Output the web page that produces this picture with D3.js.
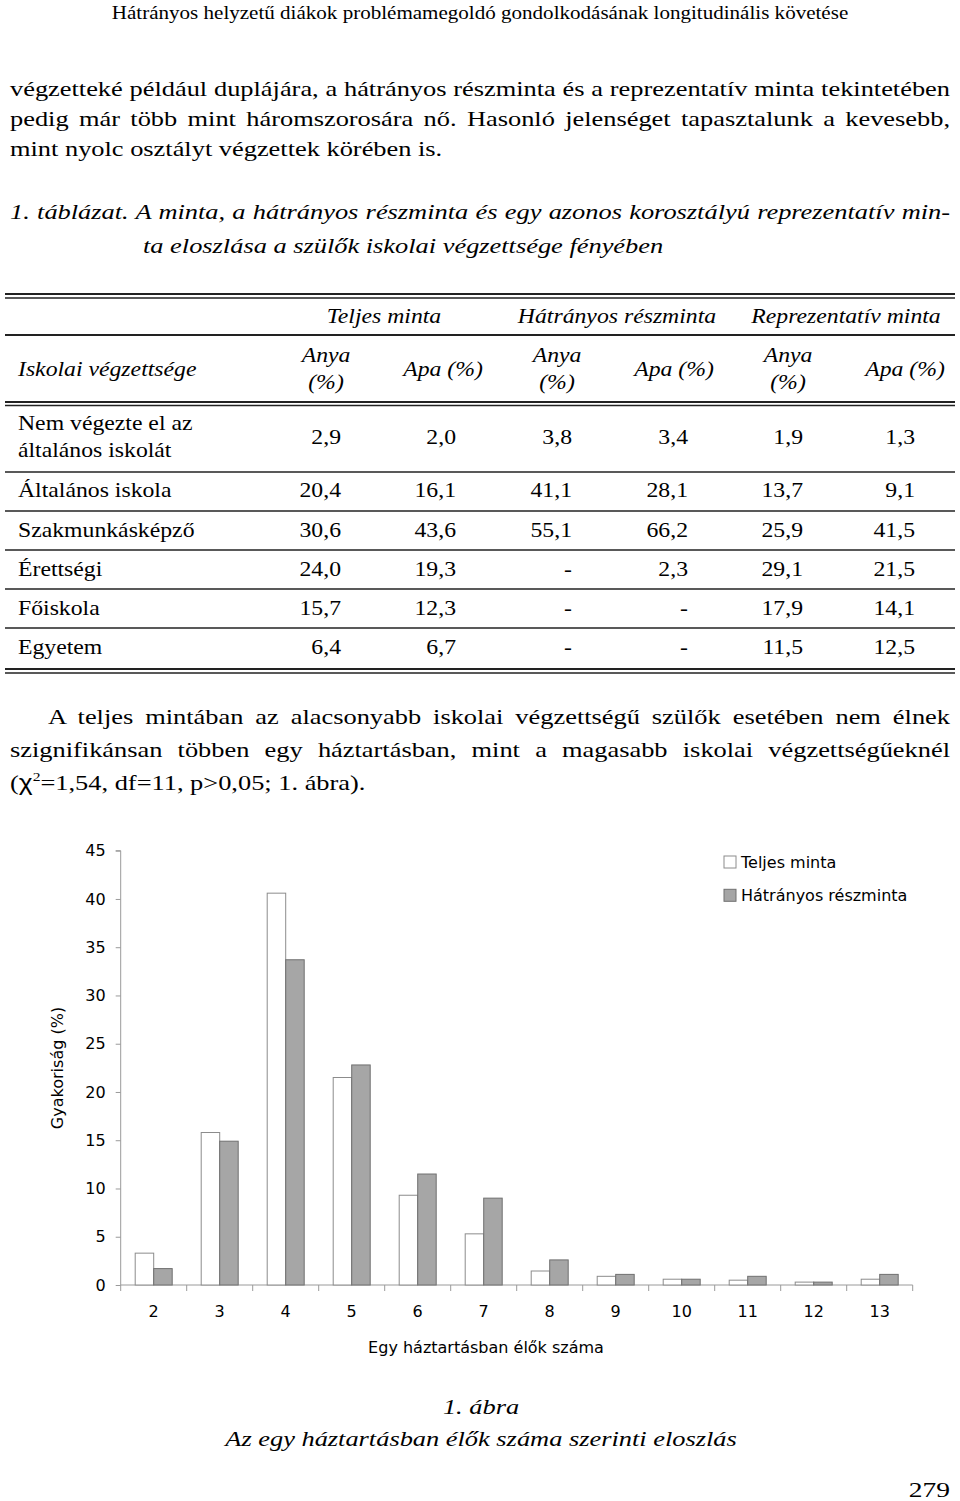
<!DOCTYPE html>
<html><head><meta charset="utf-8">
<script src="https://cdn.jsdelivr.net/npm/d3@7"></script>
<style>body{margin:0;background:#fff}svg{display:block}</style>
</head><body>
<script>
// ---------- chart data ----------
const householdSizes = ["2","3","4","5","6","7","8","9","10","11","12","13"];
const teljesMinta = [3.3, 15.8, 40.6, 21.5, 9.3, 5.3, 1.45, 0.9, 0.6, 0.5, 0.3, 0.6];
const hatranyosReszminta = [1.7, 14.9, 33.7, 22.8, 11.5, 9.0, 2.6, 1.1, 0.6, 0.9, 0.3, 1.1];
const seriesNames = ["Teljes minta", "Hátrányos részminta"];
const yTicks = [0, 5, 10, 15, 20, 25, 30, 35, 40, 45];

// ---------- table data ----------
const tableGroups = ["Teljes minta", "Hátrányos részminta", "Reprezentatív minta"];
const educationLevels = [["Nem végezte el az", "általános iskolát"], ["Általános iskola"], ["Szakmunkásképző"], ["Érettségi"], ["Főiskola"], ["Egyetem"]];
const teljesAnya = [2.9, 20.4, 30.6, 24.0, 15.7, 6.4];
const teljesApa = [2.0, 16.1, 43.6, 19.3, 12.3, 6.7];
const hatranyosAnya = [3.8, 41.1, 55.1, null, null, null];
const hatranyosApa = [3.4, 28.1, 66.2, 2.3, null, null];
const reprAnya = [1.9, 13.7, 25.9, 29.1, 17.9, 11.5];
const reprApa = [1.3, 9.1, 41.5, 21.5, 14.1, 12.5];

// ---------- page text ----------
const headerText = "Hátrányos helyzetű diákok problémamegoldó gondolkodásának longitudinális követése";
const para1 = ["végzetteké például duplájára, a hátrányos részminta és a reprezentatív minta tekintetében",
  "pedig már több mint háromszorosára nő. Hasonló jelenséget tapasztalunk a kevesebb,",
  "mint nyolc osztályt végzettek körében is."];
const captionLines = ["1. táblázat. A minta, a hátrányos részminta és egy azonos korosztályú reprezentatív min-",
  "ta eloszlása a szülők iskolai végzettsége fényében"];
const para2 = ["A teljes mintában az alacsonyabb iskolai végzettségű szülők esetében nem élnek",
  "szignifikánsan többen egy háztartásban, mint a magasabb iskolai végzettségűeknél"];
const figCaption = ["1. ábra", "Az egy háztartásban élők száma szerinti eloszlás"];
const pageNumber = "279";

const W = 960, H = 1501;
const serif = "'Liberation Serif','Times New Roman',serif";
const sans = "'DejaVu Sans',Verdana,sans-serif";
const svg = d3.select("body").append("svg").attr("width", W).attr("height", H);

function txt(g, s, x, y, size, opts = {}) {
  const sx = opts.sx || 1;
  const t = g.append("text").attr("transform", `translate(${x},${y}) scale(${sx},1)`).text(s)
    .attr("font-family", opts.family || serif).attr("font-size", size)
    .attr("font-style", opts.italic ? "italic" : "normal")
    .attr("text-anchor", opts.anchor || "start").attr("fill", "#000");
  t.property("__sx", sx);
  return t;
}
function justify(t, width) {
  const sx = t.property("__sx") || 1;
  const s = t.text();
  const n = (s.match(/ /g) || []).length;
  const w = t.node().getComputedTextLength();
  if (n > 0) t.style("word-spacing", ((width / sx - w) / n) + "px");
}
const SX = 1.2, TSX = 1.13;

// header
txt(svg, headerText, 480, 19, 18, {anchor: "middle", sx: 1.17});

// paragraph 1
para1.forEach((l, i) => {
  const t = txt(svg, l, 10, 96 + i * 30, 22, {sx: SX});
  if (i < para1.length - 1) justify(t, 940);
});

// table caption
const c1 = txt(svg, captionLines[0], 10, 219, 22, {italic: true, sx: SX});
justify(c1, 940);
txt(svg, captionLines[1], 143, 253, 22, {italic: true, sx: SX});

// ---------- table ----------
const tg = svg.append("g");
function hline(y, w) {
  tg.append("line").attr("x1", 5).attr("x2", 955).attr("y1", y).attr("y2", y)
    .attr("stroke", "#222").attr("stroke-width", w);
}
hline(294, 2); hline(298, 1.5);
hline(335, 2);
hline(402, 2); hline(405.5, 1.5);
const rowLines = [472, 511, 550, 589, 628];
rowLines.forEach(y => hline(y, 1.5));
hline(669, 2); hline(673, 1.5);

const groupCenters = [384, 617, 846];
tableGroups.forEach((g, i) => txt(tg, g, groupCenters[i], 323, 21, {italic: true, anchor: "middle", sx: TSX}));
txt(tg, "Iskolai végzettsége", 18, 376, 21, {italic: true, sx: TSX});
const anyaCenters = [326, 557, 788], apaCenters = [443, 674, 905];
anyaCenters.forEach(x => {
  txt(tg, "Anya", x, 362, 21, {italic: true, anchor: "middle", sx: TSX});
  txt(tg, "(%)", x, 389, 21, {italic: true, anchor: "middle", sx: TSX});
});
apaCenters.forEach(x => txt(tg, "Apa (%)", x, 376, 21, {italic: true, anchor: "middle", sx: TSX}));

const rowBaselines = [444, 497, 537, 576, 615, 654];
const cols = [teljesAnya, teljesApa, hatranyosAnya, hatranyosApa, reprAnya, reprApa];
const colRight = [341, 456, 572, 688, 803, 915];
const fmt = v => v == null ? "-" : d3.format(".1f")(v).replace(".", ",");
educationLevels.forEach((lab, r) => {
  if (lab.length === 2) {
    txt(tg, lab[0], 18, 430, 21, {sx: TSX});
    txt(tg, lab[1], 18, 457, 21, {sx: TSX});
  } else txt(tg, lab[0], 18, rowBaselines[r], 21, {sx: TSX});
  cols.forEach((col, c) => txt(tg, fmt(col[r]), colRight[c], rowBaselines[r], 21, {anchor: "end", sx: TSX}));
});

// paragraph 2
para2.forEach((l, i) => {
  const x0 = i === 0 ? 48 : 10;
  const t = txt(svg, l, x0, 724 + i * 33, 22, {sx: SX});
  justify(t, 950 - x0);
});
const p3 = svg.append("text").attr("transform", `translate(10,790) scale(${SX},1)`)
  .attr("font-family", serif).attr("font-size", 22);
p3.append("tspan").text("(");
p3.append("tspan").attr("font-family", "'Liberation Sans',Arial,sans-serif").text("χ");
p3.append("tspan").attr("font-size", 13).attr("dy", -9).text("2");
p3.append("tspan").attr("dy", 9).text("=1,54, df=11, p>0,05; 1. ábra).");

// ---------- chart ----------
const x0 = 120.7, x1 = 912.7, yTop = 850.7, yBot = 1285;
const x = d3.scaleBand().domain(householdSizes).range([x0, x1]).padding(0);
const xs = d3.scaleBand().domain(seriesNames).range([14.5, 51.5]).padding(0);
const y = d3.scaleLinear().domain([0, 45]).range([yBot, yTop]);
const ch = svg.append("g");
const axisColor = "#9a9a9a";

const yAxis = ch.append("g").attr("transform", `translate(${x0},0)`)
  .call(d3.axisLeft(y).tickValues(yTicks).tickSize(5).tickPadding(10).tickFormat(d3.format("d")));
yAxis.selectAll("path,line").attr("stroke", axisColor);
yAxis.select(".domain").attr("d", `M-5,${yTop}H0V${yBot}`);
yAxis.selectAll("text").attr("font-family", sans).attr("font-size", 16).attr("fill", "#000");

const xAxis = ch.append("g").attr("transform", `translate(0,${yBot})`)
  .call(d3.axisBottom(x).tickSize(0).tickPadding(21));
xAxis.select(".domain").attr("stroke", axisColor).attr("d", `M${x0},0H${x1}`);
xAxis.selectAll("text").attr("font-family", sans).attr("font-size", 16).attr("fill", "#000");
const boundaries = householdSizes.map(d => x(d)).concat([x1]);
xAxis.selectAll(".bnd").data(boundaries).join("line").attr("class", "bnd")
  .attr("x1", d => d).attr("x2", d => d).attr("y1", 0).attr("y2", 6).attr("stroke", axisColor);

const seriesData = [teljesMinta, hatranyosReszminta];
const fills = ["#ffffff", "#a6a6a6"], strokes = ["#8c8c8c", "#707070"];
seriesData.forEach((vals, s) => {
  ch.append("g").selectAll("rect").data(vals).join("rect")
    .attr("x", (d, i) => x(householdSizes[i]) + xs(seriesNames[s]))
    .attr("width", xs.bandwidth())
    .attr("y", d => y(d)).attr("height", d => yBot - y(d))
    .attr("fill", fills[s]).attr("stroke", strokes[s]).attr("stroke-width", 1);
});

// axis titles
ch.append("text").attr("transform", `translate(63,1068) rotate(-90)`).attr("text-anchor", "middle")
  .attr("font-family", sans).attr("font-size", 16).text("Gyakoriság (%)");
ch.append("text").attr("x", 486).attr("y", 1353).attr("text-anchor", "middle")
  .attr("font-family", sans).attr("font-size", 16).text("Egy háztartásban élők száma");

// legend
const lg = ch.append("g").attr("transform", "translate(724,856)");
seriesNames.forEach((n, i) => {
  lg.append("rect").attr("x", 0).attr("y", i * 33.3).attr("width", 12).attr("height", 12)
    .attr("fill", fills[i]).attr("stroke", strokes[i]);
  lg.append("text").attr("x", 17).attr("y", i * 33.3 + 12).attr("font-family", sans)
    .attr("font-size", 16).text(n);
});

// figure caption
txt(svg, figCaption[0], 481, 1414, 22, {italic: true, anchor: "middle", sx: SX});
txt(svg, figCaption[1], 481, 1446, 22, {italic: true, anchor: "middle", sx: SX});
txt(svg, pageNumber, 950, 1497, 22, {anchor: "end", sx: 1.25});
</script>
</body></html>
